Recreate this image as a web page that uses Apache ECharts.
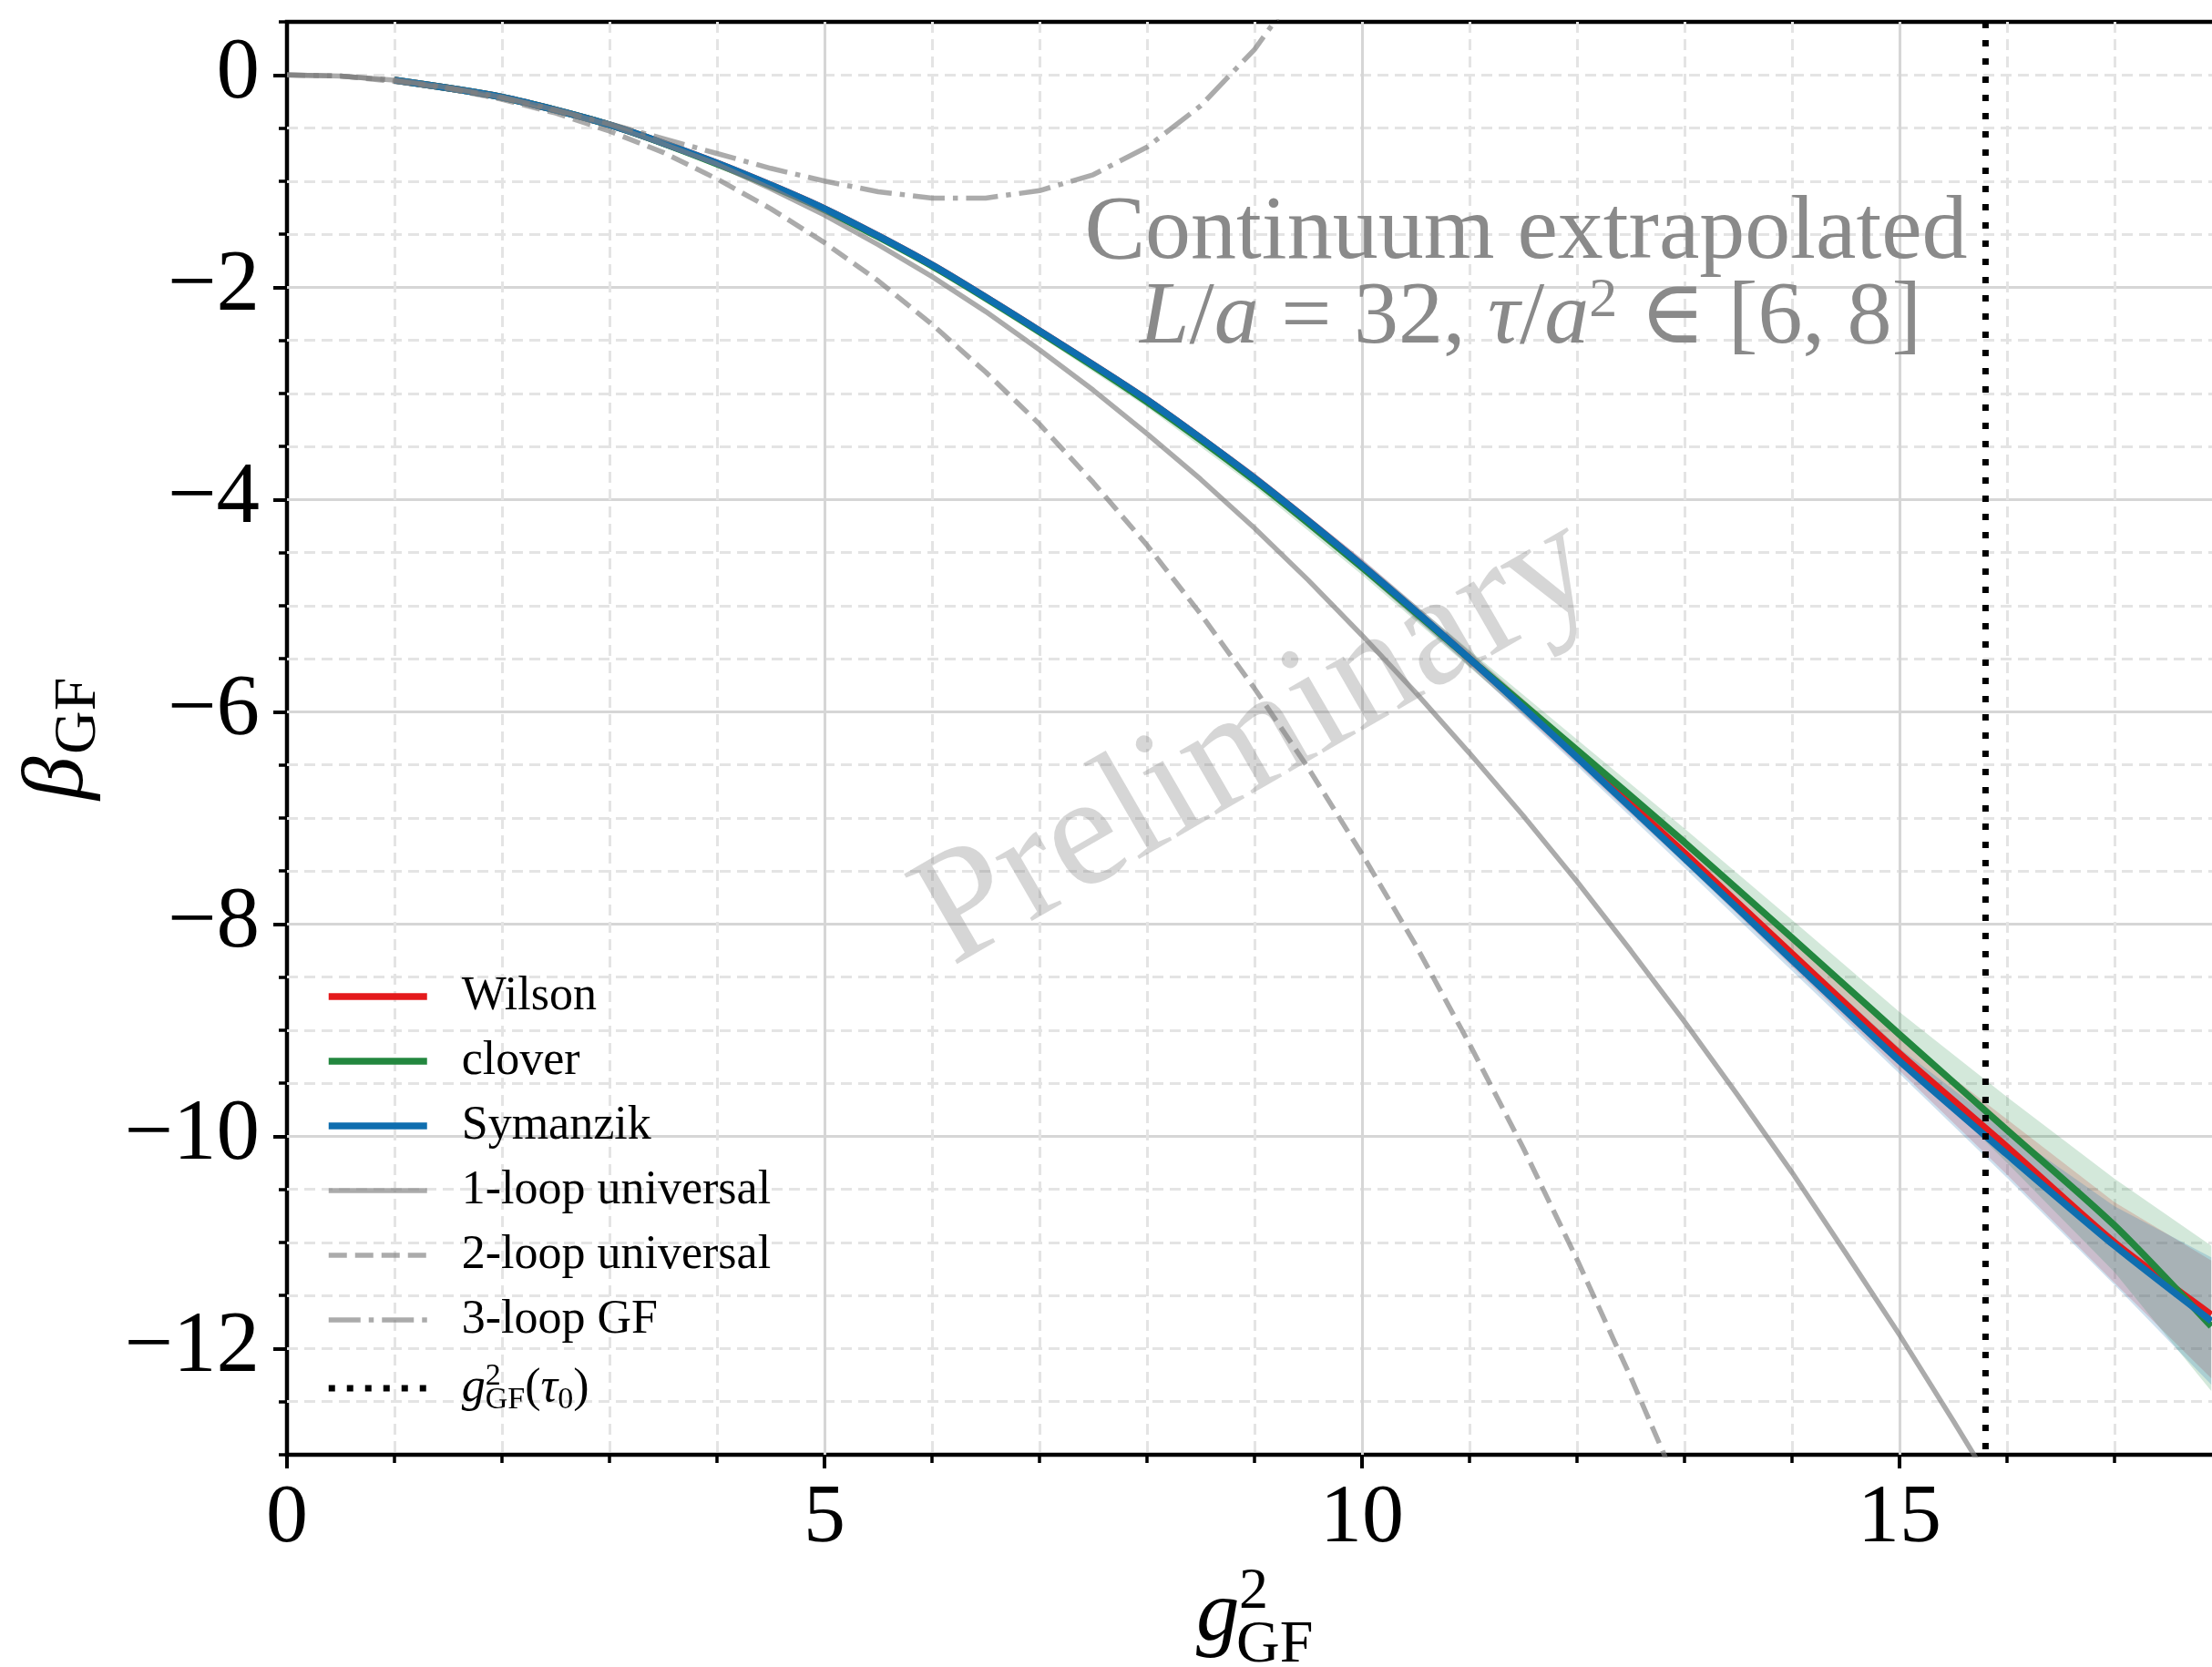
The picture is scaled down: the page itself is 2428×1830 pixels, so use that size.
<!DOCTYPE html>
<html><head><meta charset="utf-8">
<script src="https://cdn.jsdelivr.net/npm/echarts@6/dist/echarts.min.js"></script>
<style>html,body{margin:0;padding:0;background:#fff}#c{width:2428px;height:1830px}</style>
</head><body><div id="c"></div>
<script>
// ---- data ----
const g2 = [1,2,3,4,5,6,7,8,9,10,11,12,13,14,15,16,17,17.9];
const wilson     = [-0.05,-0.21,-0.47,-0.83,-1.26,-1.79,-2.41,-3.06,-3.80,-4.62,-5.50,-6.41,-7.33,-8.28,-9.22,-10.10,-11.00,-11.68];
const wilsonLo   = [-0.06,-0.22,-0.49,-0.85,-1.28,-1.82,-2.44,-3.10,-3.85,-4.68,-5.57,-6.49,-7.43,-8.40,-9.38,-10.36,-11.38,-12.28];
const wilsonHi   = [-0.04,-0.20,-0.45,-0.81,-1.24,-1.76,-2.38,-3.02,-3.75,-4.56,-5.43,-6.33,-7.23,-8.16,-9.06,-9.84,-10.62,-11.17];
const clover     = [-0.05,-0.21,-0.47,-0.84,-1.27,-1.80,-2.42,-3.08,-3.82,-4.64,-5.50,-6.36,-7.23,-8.13,-9.04,-9.94,-10.84,-11.79];
const cloverLo   = [-0.06,-0.22,-0.49,-0.86,-1.30,-1.83,-2.46,-3.13,-3.88,-4.71,-5.58,-6.46,-7.36,-8.30,-9.25,-10.25,-11.28,-12.40];
const cloverHi   = [-0.04,-0.20,-0.45,-0.82,-1.24,-1.77,-2.38,-3.03,-3.76,-4.57,-5.42,-6.26,-7.10,-7.96,-8.83,-9.63,-10.40,-11.03];
const symanzik   = [-0.05,-0.21,-0.47,-0.83,-1.26,-1.79,-2.41,-3.06,-3.80,-4.62,-5.50,-6.43,-7.38,-8.34,-9.29,-10.17,-11.03,-11.74];
const symanzikLo = [-0.06,-0.22,-0.49,-0.85,-1.28,-1.82,-2.44,-3.10,-3.85,-4.68,-5.57,-6.51,-7.47,-8.44,-9.41,-10.39,-11.40,-12.34];
const symanzikHi = [-0.04,-0.20,-0.45,-0.81,-1.24,-1.76,-2.38,-3.02,-3.75,-4.56,-5.43,-6.35,-7.29,-8.24,-9.17,-9.95,-10.66,-11.14];

const oneLoopX = [0,0.5,1,1.5,2,2.5,3,3.5,4,4.5,5,5.5,6,6.5,7,7.5,8,8.5,9,9.5,10,10.5,11,11.5,12,12.5,13,13.5,14,14.5,15,15.5,16];
const oneLoop  = [0,-0.01,-0.05,-0.12,-0.21,-0.33,-0.47,-0.65,-0.84,-1.07,-1.32,-1.60,-1.90,-2.23,-2.59,-2.97,-3.38,-3.81,-4.27,-4.76,-5.28,-5.82,-6.39,-6.98,-7.60,-8.25,-8.92,-9.62,-10.34,-11.10,-11.87,-12.68,-13.51];
const twoLoopX = [0,0.5,1,1.5,2,2.5,3,3.5,4,4.5,5,5.5,6,6.5,7,7.5,8,8.5,9,9.5,10,10.5,11,11.5,12,12.5,13];
const twoLoop  = [0,-0.01,-0.06,-0.13,-0.23,-0.36,-0.53,-0.73,-0.98,-1.26,-1.58,-1.94,-2.35,-2.80,-3.29,-3.84,-4.43,-5.08,-5.78,-6.53,-7.34,-8.20,-9.13,-10.11,-11.16,-12.27,-13.44];
const threeLoopX = [0,0.5,1,1.5,2,2.5,3,3.5,4,4.5,5,5.5,6,6.5,7,7.5,8,8.5,9,9.5];
const threeLoop  = [0,-0.01,-0.05,-0.12,-0.21,-0.33,-0.46,-0.60,-0.74,-0.88,-1.00,-1.10,-1.16,-1.16,-1.09,-0.94,-0.68,-0.29,0.24,0.94];

const tau0 = 15.8;
const xMajorTicks = [0,5,10,15];
const yMajorTicks = [-12,-10,-8,-6,-4,-2,0];
const legendNames = ['Wilson','clover','Symanzik','1-loop universal','2-loop universal','3-loop GF','g2tau0'];

// ---- styling ----
const FONT = '"Liberation Serif", "DejaVu Serif", serif';
const RED = '#e41a1c', GREEN = '#23873f', BLUE = '#0f6eaf';
const GRAY = 'rgba(128,128,128,0.66)';
const minus = v => (v < 0 ? '\u2212' + Math.abs(v) : String(v));

function band(name, lo, hi, fill) {
  return {
    type: 'custom', name: name, xAxisIndex: 0, yAxisIndex: 0, z: 2, silent: true,
    data: g2.map((x, i) => [x, lo[i], hi[i]]),
    encode: { x: 0, y: [1, 2] },
    renderItem: function (params, api) {
      if (params.dataIndex !== 0) return null;
      const pts = [];
      for (let i = 0; i < g2.length; i++) pts.push(api.coord([g2[i], hi[i]]));
      for (let i = g2.length - 1; i >= 0; i--) pts.push(api.coord([g2[i], lo[i]]));
      return { type: 'polygon', shape: { points: pts }, style: { fill: fill } };
    }
  };
}
function line(name, xs, ys, color, width, type, z, smooth) {
  return {
    type: 'line', name: name, xAxisIndex: 0, yAxisIndex: 0, z: z,
    data: xs.map((x, i) => [x, ys[i]]),
    symbol: 'none', showSymbol: false, smooth: smooth, clip: true, silent: true,
    lineStyle: { color: color, width: width, type: type, cap: 'butt' },
    itemStyle: { color: color }
  };
}

const chart = echarts.init(document.getElementById('c'), null, { renderer: 'canvas' });
const option = {
  animation: false,
  backgroundColor: '#ffffff',
  grid: { left: 315, top: 24, width: 2124, height: 1573, show: true, borderColor: '#000', borderWidth: 4.5,
    backgroundColor: 'transparent', containLabel: false, outerBoundsMode: 'none' },
  xAxis: [
    { type: 'value', min: 0, max: 18, interval: 1, position: 'bottom',
      axisLine: { show: false, onZero: false },
      axisTick: { show: true, length: 9, lineStyle: { color: '#000', width: 3.5 } },
      axisLabel: { show: false },
      splitLine: { show: true, showMinLine: false, showMaxLine: false, lineStyle: { color: '#e4e4e4', width: 3, type: [12, 7] } } },
    { type: 'value', min: 0, max: 18, interval: 5, position: 'bottom',
      axisLine: { show: false, onZero: false },
      axisTick: { show: true, length: 15, lineStyle: { color: '#000', width: 4 } },
      axisLabel: { show: true, fontFamily: FONT, fontSize: 92, color: '#000', margin: 25,
        formatter: v => (xMajorTicks.indexOf(v) >= 0 ? minus(v) : '') },
      splitLine: { show: true, showMinLine: false, showMaxLine: false, lineStyle: { color: '#d6d6d6', width: 3, type: 'solid' } } }
  ],
  yAxis: [
    { type: 'value', min: -13, max: 0.5, interval: 0.5, position: 'left',
      axisLine: { show: false, onZero: false },
      axisTick: { show: true, length: 9, lineStyle: { color: '#000', width: 3.5 } },
      axisLabel: { show: false },
      splitLine: { show: true, showMinLine: false, showMaxLine: false, lineStyle: { color: '#e4e4e4', width: 3, type: [12, 7] } } },
    { type: 'value', min: -13, max: 0.5, position: 'left', offset: 0,
      axisLine: { show: false, onZero: false },
      axisTick: { show: true, length: 15, customValues: yMajorTicks, lineStyle: { color: '#000', width: 4 } },
      axisLabel: { show: true, customValues: yMajorTicks, fontFamily: FONT, fontSize: 95, color: '#000', margin: 30,
        formatter: v => minus(v) },
      splitLine: { show: true, showMinLine: false, showMaxLine: false, lineStyle: { color: '#d6d6d6', width: 3, type: 'solid' } } }
  ],
  legend: {
    show: true, orient: 'vertical', left: 357, top: 1068, padding: 0,
    itemWidth: 108, itemHeight: 14, itemGap: 19, selectedMode: false,
    data: legendNames,
    itemStyle: { color: 'rgba(0,0,0,0)', borderColor: 'rgba(0,0,0,0)', borderWidth: 0 },
    lineStyle: { width: 'inherit' },
    textStyle: {
      fontFamily: FONT, fontSize: 52, color: '#000', lineHeight: 52, padding: [0, 0, 0, 33],
      rich: {
        g: { fontFamily: FONT, fontStyle: 'italic', fontSize: 52, lineHeight: 60, color: '#000' },
        sup: { fontFamily: FONT, fontSize: 34, verticalAlign: 'top', width: 0, color: '#000' },
        sub: { fontFamily: FONT, fontSize: 34, verticalAlign: 'bottom', color: '#000' },
        n: { fontFamily: FONT, fontSize: 52, lineHeight: 60, color: '#000' },
        t: { fontFamily: FONT, fontStyle: 'italic', fontSize: 52, lineHeight: 60, color: '#000' }
      }
    },
    formatter: function (name) {
      if (name === 'g2tau0') return '{g|g}{sup|2}{sub|GF}{n|(}{t|\u03c4}{sub|0}{n|)}';
      return name;
    }
  },
  graphic: [
    { type: 'text', z: 1, x: 1380, y: 815, rotation: Math.PI / 6, silent: true,
      style: { text: 'Preliminary', font: '175px ' + FONT, fill: 'rgba(120,120,120,0.3)', align: 'center', verticalAlign: 'middle' } },
    { type: 'text', z: 50, x: 1675, y: 257, silent: true,
      style: { text: 'Continuum extrapolated', font: '100px ' + FONT, fill: '#8a8a8a', align: 'center', verticalAlign: 'middle' } },
    { type: 'text', z: 50, x: 1680, y: 350, silent: true,
      style: {
        text: '{it|L}{n|/}{it|a}{n| = 32, }{it|\u03c4}{n|/}{it|a}{sup|2}{n| \u2208 [6, 8]}',
        font: '98px ' + FONT, fill: '#8a8a8a', align: 'center', verticalAlign: 'middle',
        rich: {
          it: { fontFamily: FONT, fontStyle: 'italic', fontSize: 98, lineHeight: 100, fill: '#8a8a8a' },
          n: { fontFamily: FONT, fontSize: 98, lineHeight: 100, fill: '#8a8a8a' },
          sup: { fontFamily: FONT, fontSize: 62, verticalAlign: 'top', fill: '#8a8a8a' }
        }
      } },
    // x axis title g^2_GF
    { type: 'text', z: 50, x: 1313, y: 1775, silent: true,
      style: { text: 'g', font: 'italic 95px ' + FONT, fill: '#000', align: 'left', verticalAlign: 'middle' } },
    { type: 'text', z: 50, x: 1360, y: 1748, silent: true,
      style: { text: '2', font: '64px ' + FONT, fill: '#000', align: 'left', verticalAlign: 'middle' } },
    { type: 'text', z: 50, x: 1357, y: 1807, silent: true,
      style: { text: 'GF', font: '66px ' + FONT, fill: '#000', align: 'left', verticalAlign: 'middle' } },
    // y axis title beta_GF (rotated)
    { type: 'group', x: 94, y: 878, rotation: Math.PI / 2, silent: true, children: [
      { type: 'text', z: 50, x: 0, y: -29, style: { text: '\u03b2', font: 'italic 95px ' + FONT, fill: '#000', align: 'left', verticalAlign: 'middle' } },
      { type: 'text', z: 50, x: 50, y: -7, style: { text: 'GF', font: '66px ' + FONT, fill: '#000', align: 'left', verticalAlign: 'middle' } }
    ] }
  ],
  series: [
    band('Wilson band', wilsonLo, wilsonHi, 'rgba(228,26,28,0.2)'),
    band('clover band', cloverLo, cloverHi, 'rgba(35,139,69,0.2)'),
    band('Symanzik band', symanzikLo, symanzikHi, 'rgba(31,120,180,0.22)'),
    line('Wilson', g2, wilson, RED, 7.5, 'solid', 3, 0.25),
    line('clover', g2, clover, GREEN, 7.5, 'solid', 3, 0.25),
    line('Symanzik', g2, symanzik, BLUE, 7.5, 'solid', 3, 0.25),
    line('1-loop universal', oneLoopX, oneLoop, GRAY, 5.5, 'solid', 4, false),
    line('2-loop universal', twoLoopX, twoLoop, GRAY, 5.5, [20, 9], 4, false),
    line('3-loop GF', threeLoopX, threeLoop, GRAY, 5.5, [35, 9, 5.5, 9], 4, false),
    line('g2tau0', [tau0, tau0], [0.5, -13], '#000', 7, [7, 13], 5, false)
  ]
};
chart.setOption(option);
</script>
</body></html>
